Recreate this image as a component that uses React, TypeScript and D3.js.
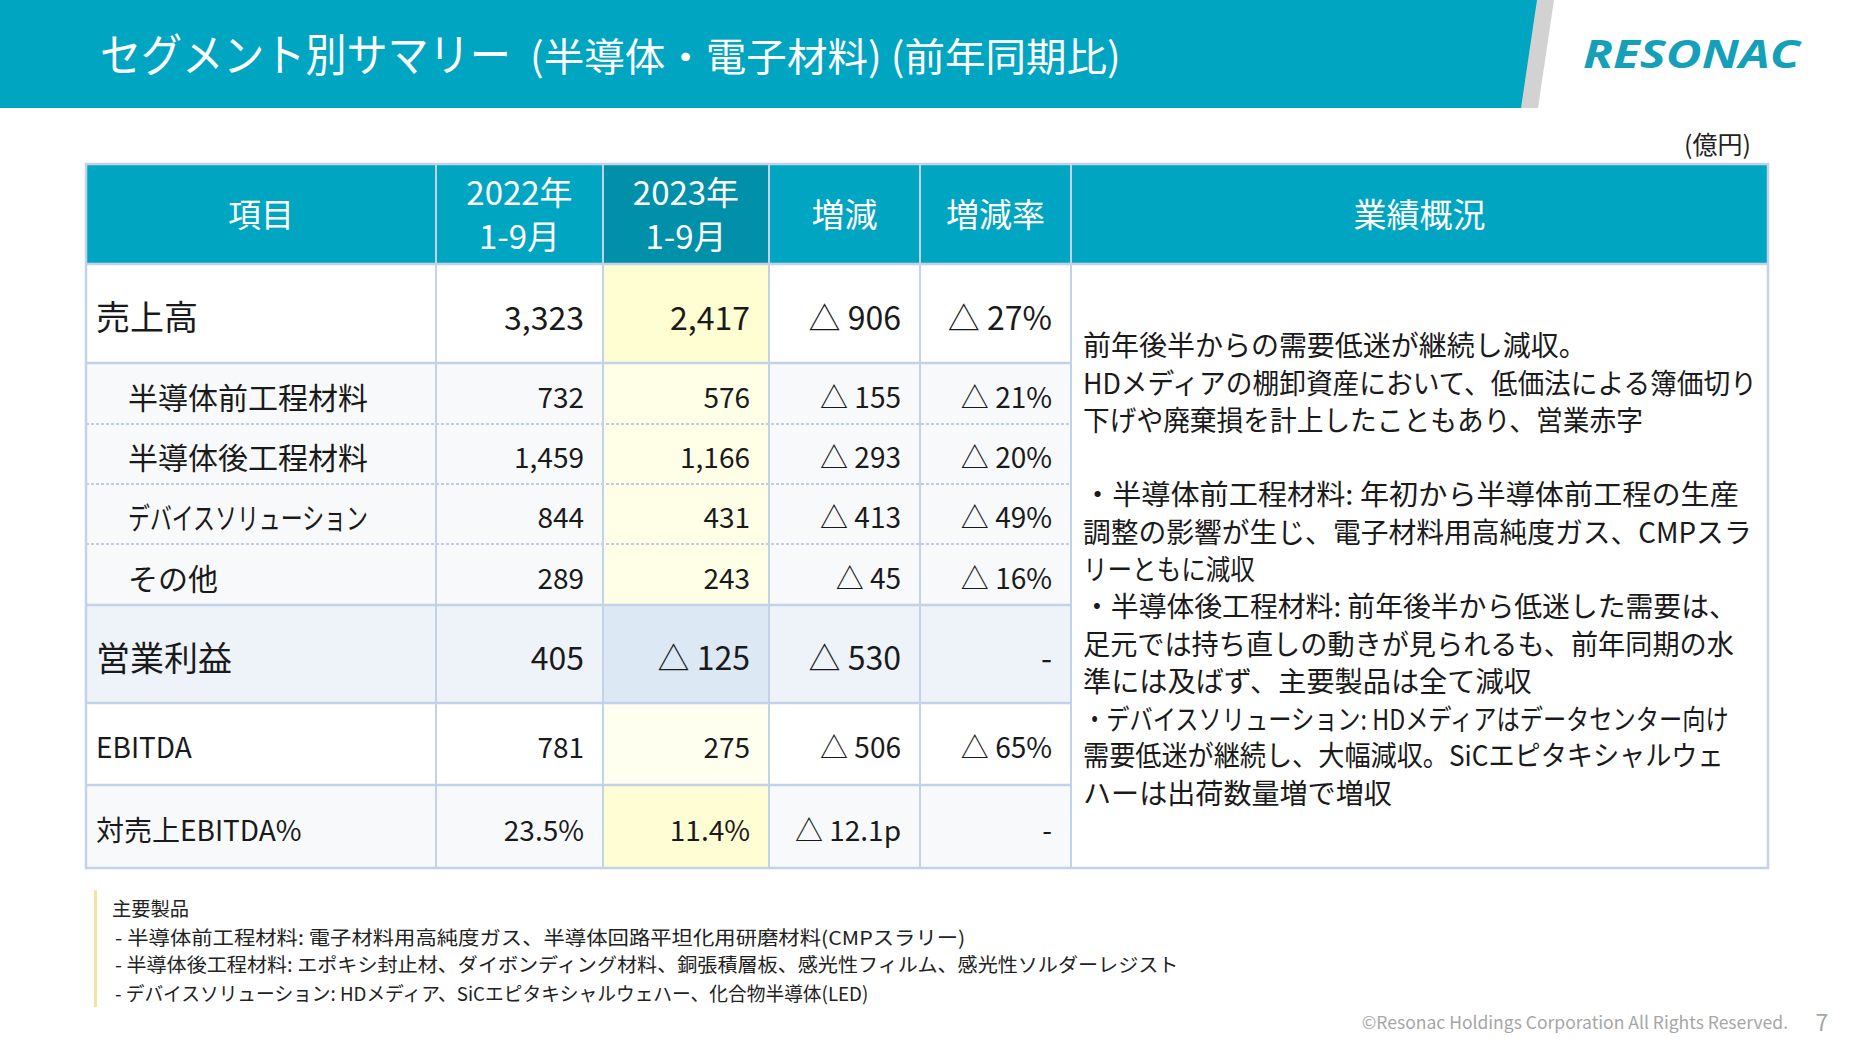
import React, { useLayoutEffect, useRef, useState } from "react";
import * as d3 from "d3";

// ---- data ----
const headers = ["項目", "2022年\n1-9月", "2023年\n1-9月", "増減", "増減率", "業績概況"];
const items = ["売上高", "半導体前工程材料", "半導体後工程材料", "デバイスソリューション", "その他", "営業利益", "EBITDA", "対売上EBITDA%"];
const v2022 = [3323, 732, 1459, 844, 289, 405, 781, 23.5];
const v2023 = [2417, 576, 1166, 431, 243, -125, 275, 11.4];
const diffs = [-906, -155, -293, -413, -45, -530, -506, -12.1];
const rates: (number | null)[] = [-27, -21, -20, -49, -16, null, -65, null];
const rowKind = ["main", "sub", "sub", "sub", "sub", "profit", "ebitda", "ratio"];
const summaryLines = [
  "前年後半からの需要低迷が継続し減収。",
  "HDメディアの棚卸資産において、低価法による簿価切り",
  "下げや廃棄損を計上したこともあり、営業赤字",
  "",
  "・半導体前工程材料: 年初から半導体前工程の生産",
  "調整の影響が生じ、電子材料用高純度ガス、CMPスラ",
  "リーともに減収",
  "・半導体後工程材料: 前年後半から低迷した需要は、",
  "足元では持ち直しの動きが見られるも、前年同期の水",
  "準には及ばず、主要製品は全て減収",
  "・デバイスソリューション: HDメディアはデータセンター向け",
  "需要低迷が継続し、大幅減収。SiCエピタキシャルウェ",
  "ハーは出荷数量増で増収",
];
const noteLines = [
  "主要製品",
  "- 半導体前工程材料: 電子材料用高純度ガス、半導体回路平坦化用研磨材料(CMPスラリー)",
  "- 半導体後工程材料: エポキシ封止材、ダイボンディング材料、銅張積層板、感光性フィルム、感光性ソルダーレジスト",
  "- デバイスソリューション: HDメディア、SiCエピタキシャルウェハー、化合物半導体(LED)",
];

// ---- layout ----
const W = 1855, H = 1044;
const FONT = "'Noto Sans CJK JP', 'Noto Sans', sans-serif";
const TEAL = "#00a6c1";
const TEAL_DARK = "#0090a9";
const BORDER = "#c3d2e8";
const colEdges = [86, 436, 603, 769, 920, 1071, 1768];
const headerTop = 164, headerH = 100;
const rowHeights = [99, 61, 60, 60, 61, 98, 82, 83];
// rendered widths of the wrapped text lines (the original uses a narrower Japanese face)
const summaryWidths = [504, 674, 560, 0, 656, 669, 172, 654, 651, 449, 646, 641, 309];
const noteWidths = [0, 850, 1063, 753];
const labelMaxWidth = 240;

const fmtInt = d3.format(",");
function fmt(v: number, i: number, kind: "val" | "diff") {
  const isRatio = rowKind[i] === "ratio";
  const a = Math.abs(v);
  const s = isRatio ? d3.format(".1f")(a) + (kind === "diff" ? "p" : "%") : fmtInt(a);
  return v < 0 ? "△ " + s : s;
}

// text squeezed horizontally to a given width (transform, so its box is the drawn box)
function FitText(props: { x: number; y: number; width?: number; maxWidth?: number; children: string; [k: string]: any }) {
  const { x, y, width, maxWidth, children, ...rest } = props;
  const ref = useRef<SVGTextElement>(null);
  const [s, setS] = useState(1);
  useLayoutEffect(() => {
    const el = ref.current;
    if (!el) return;
    const len = el.getComputedTextLength();
    if (!len) return;
    if (width) setS(width / len);
    else if (maxWidth && len > maxWidth) setS(maxWidth / len);
  }, [children, width, maxWidth]);
  return (
    <text ref={ref} x={0} y={0} transform={`translate(${x},${y}) scale(${s},1)`} {...rest}>
      {children}
    </text>
  );
}

export default function App() {
  const rowTops = [headerTop + headerH, ...Array.from(d3.cumsum(rowHeights)).map((c) => headerTop + headerH + c)];
  const tableBottom = rowTops[rowTops.length - 1];
  const x = d3.scaleOrdinal<number, number>().domain(d3.range(7)).range(colEdges);
  const lineY = d3.scaleLinear().domain([0, 1]).range([344, 381.3]);
  const noteY = d3.scaleLinear().domain([0, 1]).range([908, 936]);

  const rowBg = (i: number) => {
    const k = rowKind[i];
    if (k === "main" || k === "ebitda") return "#ffffff";
    if (k === "profit") return "#eef3fa";
    return "#f8f9fb";
  };
  const yellowBg = (i: number) => {
    const k = rowKind[i];
    if (k === "main") return "#fffdd2";
    if (k === "profit") return "#dde8f5";
    if (k === "ebitda") return "#fffff0";
    if (k === "ratio") return "#fffdd4";
    return "#fffee6";
  };
  const big = (i: number) => rowKind[i] === "main" || rowKind[i] === "profit";
  const fsLabel = (i: number) => (big(i) ? 34 : rowKind[i] === "sub" ? 30 : 28);
  const fsNum = (i: number) => (big(i) ? 32 : 28);

  return (
    <svg width={W} height={H} style={{ display: "block", position: "absolute", left: 0, top: 0 }} fontFamily={FONT}>
      <rect width={W} height={H} fill="#ffffff" />
      {/* banner */}
      <path d="M0,0 L1554,0 L1538,108 L0,108 Z" fill="#d2d2d2" />
      <path d="M0,0 L1537,0 L1521,108 L0,108 Z" fill={TEAL} />
      <FitText x={100} y={72} width={411} fill="#ffffff" fontSize={45}>セグメント別サマリー</FitText>
      <FitText x={530} y={71} width={591} fill="#ffffff" fontSize={39}>(半導体・電子材料) (前年同期比)</FitText>
      <FitText x={1583} y={68} width={217} fill="#14a0b9" fontSize={40} fontWeight={700} fontStyle="italic" fontFamily="'Open Sans', sans-serif">RESONAC</FitText>

      <text x={1751} y={143} textAnchor="end" dominantBaseline="central" fontSize={25} fill="#222">(億円)</text>

      {/* header */}
      {headers.map((h, j) => {
        const x0 = x(j), x1 = x(j + 1);
        const lines = h.split("\n");
        return (
          <g key={"h" + j}>
            <rect x={x0} y={headerTop} width={x1 - x0} height={headerH} fill={j === 2 ? TEAL_DARK : TEAL} />
            {lines.map((l, k) => (
              <text key={k} x={(x0 + x1) / 2} y={headerTop + headerH / 2 + (lines.length === 1 ? 0 : (k - 0.5) * 43.5) - 1} textAnchor="middle" dominantBaseline="central" fill="#fff" fontSize={33}>
                {l}
              </text>
            ))}
          </g>
        );
      })}

      {/* rows */}
      {items.map((item, i) => {
        const y0 = rowTops[i], y1 = rowTops[i + 1];
        const cy = (y0 + y1) / 2 + 2;
        const sub = rowKind[i] === "sub";
        const vals = [
          fmt(v2022[i], i, "val"),
          fmt(v2023[i], i, "val"),
          fmt(diffs[i], i, "diff"),
          rates[i] === null ? "-" : fmt(rates[i] as number, i, "val") + "%",
        ];
        return (
          <g key={"r" + i}>
            <rect x={x(0)} y={y0} width={x(5) - x(0)} height={y1 - y0} fill={rowBg(i)} />
            <rect x={x(2)} y={y0} width={x(3) - x(2)} height={y1 - y0} fill={yellowBg(i)} />
            <FitText x={x(0) + (sub ? 42 : 10)} y={cy} maxWidth={labelMaxWidth} dominantBaseline="central" fontSize={fsLabel(i)} fill="#1a1a1a">{item}</FitText>
            {vals.map((v, j) => (
              <text key={j} x={x(j + 2) - 19} y={cy} textAnchor="end" dominantBaseline="central" fontSize={fsNum(i)} fill="#1a1a1a">{v}</text>
            ))}
          </g>
        );
      })}

      {/* grid lines */}
      {rowTops.slice(1, -1).map((yy, i) => {
        const dashed = rowKind[i] === "sub" && rowKind[i + 1] === "sub";
        return (
          <line key={"hl" + i} x1={x(0)} x2={x(5)} y1={yy} y2={yy} stroke={dashed ? "#aebfdc" : BORDER} strokeWidth={dashed ? 1.5 : 2.5} strokeDasharray={dashed ? "3,2" : undefined} />
        );
      })}
      <line x1={x(0)} x2={x(6)} y1={headerTop + headerH} y2={headerTop + headerH} stroke={BORDER} strokeWidth={2.5} />
      {d3.range(1, 6).map((j) => (
        <line key={"vl" + j} x1={x(j)} x2={x(j)} y1={headerTop} y2={tableBottom} stroke={BORDER} strokeWidth={2} />
      ))}
      <rect x={x(0)} y={headerTop} width={x(6) - x(0)} height={tableBottom - headerTop} fill="none" stroke={BORDER} strokeWidth={2.5} />

      {/* summary text */}
      {summaryLines.map((l, k) =>
        l ? (
          <FitText key={"s" + k} x={1083} y={lineY(k)} width={summaryWidths[k]} dominantBaseline="central" fontSize={28} fill="#1a1a1a">{l}</FitText>
        ) : null
      )}

      {/* notes */}
      <rect x={94} y={890} width={3} height={117} fill="#f5e3a0" />
      {noteLines.map((l, k) => (
        <FitText key={"n" + k} x={k === 0 ? 112 : 115} y={noteY(k)} width={noteWidths[k] || undefined} dominantBaseline="central" fontSize={19.3} fill="#222">{l}</FitText>
      ))}

      <text x={1788} y={1021} textAnchor="end" dominantBaseline="central" fontSize={17.5} fill="#a6a6a6">©Resonac Holdings Corporation  All Rights Reserved.</text>
      <text x={1822} y={1021} textAnchor="middle" dominantBaseline="central" fontSize={23} fill="#a6a6a6">7</text>
    </svg>
  );
}
